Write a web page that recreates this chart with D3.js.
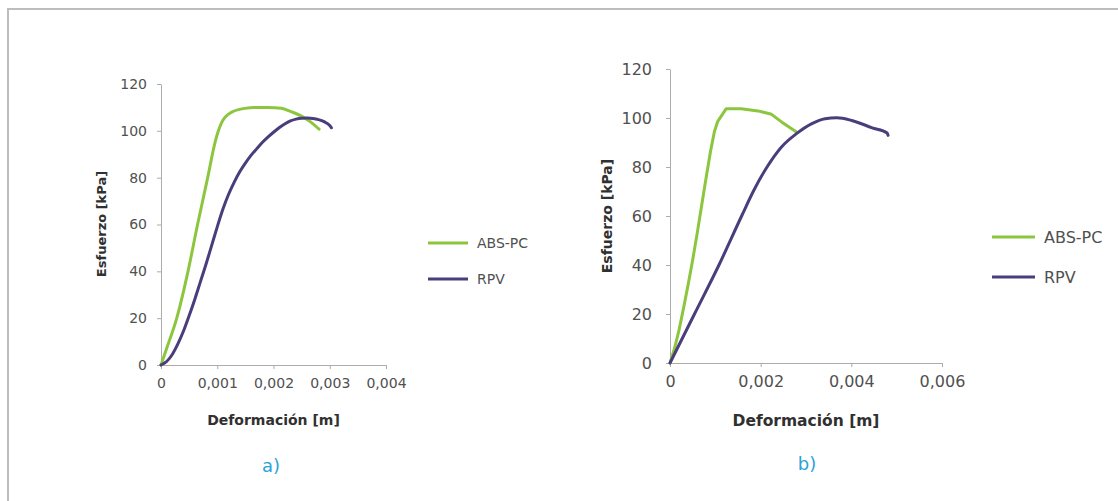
<!DOCTYPE html>
<html>
<head>
<meta charset="utf-8">
<script src="https://d3js.org/d3.v7.min.js"></script>
<style>
  body { margin: 0; background: #fff; }
  svg { display: block; }
  text { font-family: "DejaVu Sans", sans-serif; }
  .tick text { fill: #505050; }
  .axis path, .axis line { stroke: #acacac; }
  .title { font-weight: bold; fill: #303030; }
  .legend { fill: #505050; }
  .panel { fill: #2aa3d9; }
</style>
</head>
<body>
<svg width="1118" height="501"></svg>
<script>
// series names and colours
var seriesNames = ["ABS-PC", "RPV"];
var seriesColors = ["#8cc63f", "#4a3d7c"];

// panel a) [deformation m, stress kPa]
var absA = [[0,0],[0.0001,7],[0.00028,20],[0.00048,40],[0.00065,60],[0.00083,80],[0.00096,95],
  [0.00102,100],[0.00108,103.6],[0.00125,107.9],[0.00149,109.6],[0.00166,110],[0.0019,110],
  [0.00214,109.6],[0.00231,108.2],[0.00249,106.4],[0.00267,103.6],[0.00281,100.7]];
var rpvA = [[0,0],[0.0001,1.5],[0.0002,4.5],[0.0003,9],[0.0004,14.5],[0.0005,21],[0.0006,28],
  [0.0007,35.5],[0.0008,43],[0.0009,51],[0.001,59],[0.0011,66.5],[0.0012,72.8],[0.0013,78],
  [0.0014,82.5],[0.0015,86.2],[0.0016,89.5],[0.0017,92.3],[0.0018,95],[0.0019,97.3],
  [0.002,99.4],[0.0021,101.3],[0.0022,102.9],[0.0023,104.2],[0.0024,105],[0.0025,105.4],
  [0.0026,105.5],[0.0027,105.3],[0.0028,104.8],[0.0029,103.9],[0.003,102.3],[0.00303,101.3]];

// panel b)
var absB = [[0,0],[0.0001,6],[0.0002,13.5],[0.0003,22.5],[0.0004,32],[0.0005,42],[0.0006,53],
  [0.0007,64.5],[0.0008,76],[0.0009,87],[0.00098,94.5],[0.00105,98.5],[0.00124,103.8],
  [0.00157,103.8],[0.00194,102.9],[0.00224,101.5],[0.00246,98.4],[0.00279,94.3]];
var rpvB = [[0,0],[0.00054,20],[0.00108,40],[0.00158,60],[0.00185,70.5],[0.00213,79.7],
  [0.00246,88.2],[0.00279,93.6],[0.00313,97.7],[0.00342,99.7],[0.00368,100.1],[0.00401,99],
  [0.00446,96],[0.00479,93.9],[0.00481,92.9]];

var yTicks = [0, 20, 40, 60, 80, 100, 120];
var xTicksA = [0, 0.001, 0.002, 0.003, 0.004];
var xTicksB = [0, 0.002, 0.004, 0.006];

var svg = d3.select("svg");

// outer frame (left and top edges only are visible)
svg.append("path")
  .attr("d", "M8,501V9H1118")
  .attr("fill", "none")
  .attr("stroke", "#bdbdbd")
  .attr("stroke-width", 2);

function fmt(d) { return d === 0 ? "0" : d.toFixed(3).replace(".", ","); }

function panel(cfg) {
  var x = d3.scaleLinear().domain([0, cfg.xTicks[cfg.xTicks.length - 1]]).range([cfg.left, cfg.right]);
  var y = d3.scaleLinear().domain([0, 120]).range([cfg.bottom, cfg.top]);

  var gx = svg.append("g").attr("class", "axis")
    .attr("transform", "translate(0," + cfg.bottom + ")")
    .call(d3.axisBottom(x).tickValues(cfg.xTicks).tickFormat(fmt).tickSize(4).tickPadding(cfg.xPad).tickSizeOuter(0));
  var gy = svg.append("g").attr("class", "axis")
    .attr("transform", "translate(" + cfg.left + ",0)")
    .call(d3.axisLeft(y).tickValues(yTicks).tickSize(4).tickPadding(cfg.yPad).tickSizeOuter(0));
  gx.selectAll("text").style("font-size", cfg.tickFont + "px");
  gy.selectAll("text").style("font-size", cfg.tickFont + "px");

  cfg.curves.forEach(function(c, i) {
    var line = d3.line().x(function(d) { return x(d[0]); }).y(function(d) { return y(d[1]); }).curve(c);
    svg.append("path").datum([cfg.abs, cfg.rpv][i])
      .attr("d", line)
      .attr("fill", "none")
      .attr("stroke", seriesColors[i])
      .attr("stroke-width", 3)
      .attr("stroke-linejoin", "round")
      .attr("stroke-linecap", "round");
  });

  svg.append("text").attr("class", "title")
    .attr("x", (cfg.left + cfg.right) / 2).attr("y", cfg.xtY)
    .style("font-size", cfg.xtFont + "px")
    .attr("text-anchor", "middle").text("Deformación [m]");
  svg.append("text").attr("class", "title")
    .attr("transform", "translate(" + cfg.ytx + "," + cfg.yty + ") rotate(-90)")
    .style("font-size", cfg.ytFont + "px")
    .attr("text-anchor", "middle").text("Esfuerzo [kPa]");

  seriesNames.forEach(function(n, i) {
    var ly = cfg.legY[i];
    svg.append("line")
      .attr("x1", cfg.legX).attr("x2", cfg.legX + cfg.legW)
      .attr("y1", ly).attr("y2", ly)
      .attr("stroke", seriesColors[i]).attr("stroke-width", 3);
    svg.append("text").attr("class", "legend")
      .style("font-size", cfg.legFont + "px")
      .attr("x", cfg.legX + cfg.legW + 9).attr("y", ly + cfg.legFont * 0.36).text(n);
  });

  svg.append("text").attr("class", "panel")
    .style("font-size", "18px")
    .attr("x", cfg.labX).attr("y", cfg.labY)
    .attr("text-anchor", "middle").text(cfg.label);
}

panel({ left: 161, right: 386, top: 84, bottom: 365, xTicks: xTicksA, abs: absA, rpv: rpvA,
  curves: [d3.curveMonotoneX, d3.curveMonotoneX], tickFont: 14, xPad: 9, yPad: 10,
  xtFont: 14, xtY: 425, ytFont: 13, ytx: 106, yty: 224,
  legX: 428, legW: 40, legY: [243, 279], legFont: 14,
  label: "a)", labX: 271, labY: 472 });
panel({ left: 670, right: 942, top: 69, bottom: 363, xTicks: xTicksB, abs: absB, rpv: rpvB,
  curves: [d3.curveLinear, d3.curveMonotoneX], tickFont: 16, xPad: 9, yPad: 14,
  xtFont: 15.5, xtY: 426, ytFont: 14, ytx: 612, yty: 216,
  legX: 992, legW: 43, legY: [237, 277], legFont: 16,
  label: "b)", labX: 807, labY: 470 });
</script>
</body>
</html>
